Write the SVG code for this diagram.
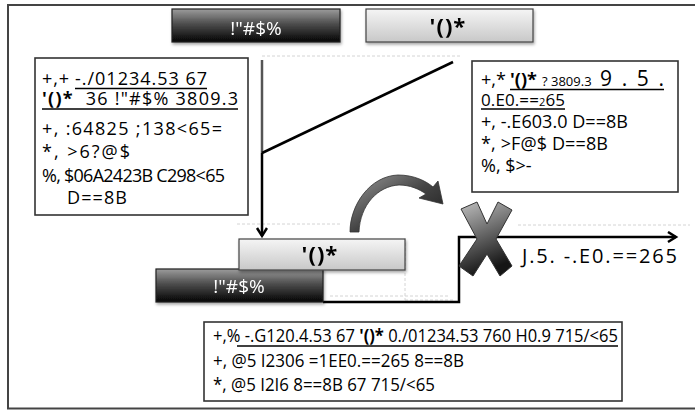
<svg xmlns="http://www.w3.org/2000/svg" width="695" height="411" viewBox="0 0 695 411">
<defs>
<style>
.t{font-family:"Open Sans","Noto Sans",sans-serif;font-size:18px;fill:#000}
.b{font-weight:bold}
.box{fill:#fff;stroke:#333;stroke-width:1.6}
.ul{stroke:#000;stroke-width:1.5}
.conn{fill:none;stroke:#000;stroke-width:2.5}
.faint{fill:none;stroke:#d4d4d4;stroke-width:1;stroke-dasharray:3 2}
.btnD{fill:url(#gDark);stroke:#222;stroke-width:1.2}
.btnL{fill:url(#gLight);stroke:#444;stroke-width:1.2}
.wt{font-family:"Open Sans","Noto Sans",sans-serif;font-size:19px;fill:#fff}
.bt{font-family:"Open Sans","Noto Sans",sans-serif;font-size:22px;font-weight:bold;fill:#000;letter-spacing:1px}
</style>
<linearGradient id="gDark" x1="0" y1="0" x2="0" y2="1"><stop offset="0" stop-color="#9c9c9c"/><stop offset="0.45" stop-color="#4d4d4d"/><stop offset="1" stop-color="#030303"/></linearGradient>
<linearGradient id="gLight" x1="0" y1="0" x2="0" y2="1"><stop offset="0" stop-color="#f5f5f5"/><stop offset="1" stop-color="#c8c8c8"/></linearGradient>
<linearGradient id="gX" x1="0" y1="0" x2="0.3" y2="1"><stop offset="0" stop-color="#c0c0c0"/><stop offset="0.5" stop-color="#6a6a6a"/><stop offset="1" stop-color="#151515"/></linearGradient>
<linearGradient id="gArc" x1="0" y1="0" x2="1" y2="1"><stop offset="0" stop-color="#9a9a9a"/><stop offset="0.5" stop-color="#444"/><stop offset="1" stop-color="#1a1a1a"/></linearGradient>
<filter id="sh" x="-10%" y="-20%" width="130%" height="160%"><feDropShadow dx="1" dy="2" stdDeviation="1.5" flood-color="#000" flood-opacity="0.35"/></filter>
<marker id="arr" markerUnits="userSpaceOnUse" markerWidth="14" markerHeight="14" refX="10" refY="6" orient="auto"><path d="M2,1 L10,6 L2,11" fill="none" stroke="#000" stroke-width="2.5"/></marker>
</defs>
<rect width="695" height="411" fill="#fff"/>
<path d="M695,5 H8 V408.5 H695" fill="none" stroke="#444" stroke-width="2"/>

<g id="faint-artifacts">
<path class="faint" d="M237,224 H342 M518,225 H690 M262,56 H460 M405,238 V300 M405,300 H455 M330,296 H450"/>
</g>

<g id="connectors">
<path d="M262,60 V153" fill="none" stroke="#555" stroke-width="2.5"/>
<path class="conn" d="M262,153 V236" marker-end="url(#arr)"/>
<path class="conn" stroke-width="2" d="M262,153 L453,62"/>
<path class="conn" d="M323,302 H459 V237 H676" marker-end="url(#arr)"/>
<path id="curved-arrow" d="M350,232 C350,205 370,176 398,175 C414,175 426,181 433,187 L438,181 L443,204 L419,198 L426,194 C419,189 410,185 399,185 C378,186 360,205 359,232 Z" fill="url(#gArc)" stroke="#333" stroke-width="0.8"/>
</g>

<g id="btn-top-dark" filter="url(#sh)">
<rect class="btnD" x="172" y="9" width="168" height="33"/>
<text class="wt" x="256" y="35" text-anchor="middle">!"#$%</text>
</g>
<g id="btn-top-light" filter="url(#sh)">
<rect class="btnL" x="366" y="9" width="167" height="33"/>
<text class="bt" x="448" y="34" text-anchor="middle">'()*</text>
</g>

<g id="box-left">
<rect class="box" x="35" y="58" width="213" height="157"/>
<text class="t" x="42" y="85" textLength="27" lengthAdjust="spacing">+,+</text>
<text class="t" x="75" y="85" textLength="132" lengthAdjust="spacing">-./01234.53 67</text>
<line class="ul" x1="75" y1="88.5" x2="207" y2="88.5"/>
<text class="t" x="42" y="105" textLength="196" lengthAdjust="spacing" xml:space="preserve"><tspan class="b">'()*</tspan>  36 !"#$% 3809.3</text>
<line class="ul" x1="42" y1="109" x2="238" y2="109"/>
<text class="t" x="42" y="135" textLength="180" lengthAdjust="spacing">+, :64825 ;138&lt;65=</text>
<text class="t" x="42" y="158" textLength="88" lengthAdjust="spacing">*, &gt;6?@$</text>
<text class="t" x="42" y="182" textLength="183" lengthAdjust="spacing">%, $06A2423B C298&lt;65</text>
<text class="t" x="67" y="204" textLength="60" lengthAdjust="spacing">D==8B</text>
</g>

<g id="box-right">
<rect class="box" x="472" y="61" width="206" height="131"/>
<text class="t" x="481" y="86">+,*</text>
<text class="t b" x="510" y="86">'()*</text>
<text class="t" x="542" y="86" style="font-size:13px">? 3809.3</text>
<text class="t" x="600" y="86" style="font-size:21px" textLength="64" lengthAdjust="spacing">9.5.</text>
<line class="ul" x1="510" y1="89.5" x2="664" y2="89.5"/>
<text class="t" x="481" y="106" style="font-size:17px" textLength="84" lengthAdjust="spacing">0.E0.==<tspan style="font-size:11px">2</tspan>65</text>
<line class="ul" x1="481" y1="109" x2="565" y2="109"/>
<text class="t" x="481" y="128" textLength="147" lengthAdjust="spacing">+, -.E603.0 D==8B</text>
<text class="t" x="481" y="150" textLength="127" lengthAdjust="spacing">*, &gt;F@$ D==8B</text>
<text class="t" x="481" y="172">%, $&gt;-</text>
</g>

<g id="btn-mid-dark" filter="url(#sh)">
<rect class="btnD" x="156" y="269" width="167" height="33"/>
<text class="wt" x="239" y="293" text-anchor="middle">!"#$%</text>
</g>
<g id="btn-mid-light" filter="url(#sh)">
<rect class="btnL" x="239" y="239" width="166" height="31"/>
<text class="bt" x="320" y="262" text-anchor="middle">'()*</text>
</g>

<g id="x-mark">
<polygon points="461,209 477,202 487,224 498,202 512,210 496,239 512,266 500,276 487,254 473,276 459,266 477,239" fill="url(#gX)" stroke="#333" stroke-width="1"/>
</g>
<text id="x-label" class="t" x="522" y="263" style="font-size:20px" textLength="155" lengthAdjust="spacing">J.5. -.E0.==265</text>

<g id="box-bottom">
<rect class="box" x="204" y="322" width="418" height="79"/>
<text class="t" x="213" y="342" textLength="405" lengthAdjust="spacingAndGlyphs">+,% -.G120.4.53 67 <tspan class="b">'()*</tspan> 0./01234.53 760 H0.9 715/&lt;65</text>
<line class="ul" x1="237" y1="346" x2="618" y2="346"/>
<text class="t" x="213" y="367" textLength="251" lengthAdjust="spacingAndGlyphs">+, @5 I2306 =1EE0.==265 8==8B</text>
<text class="t" x="213" y="391" textLength="222" lengthAdjust="spacingAndGlyphs">*, @5 I2I6 8==8B 67 715/&lt;65</text>
</g>
</svg>
